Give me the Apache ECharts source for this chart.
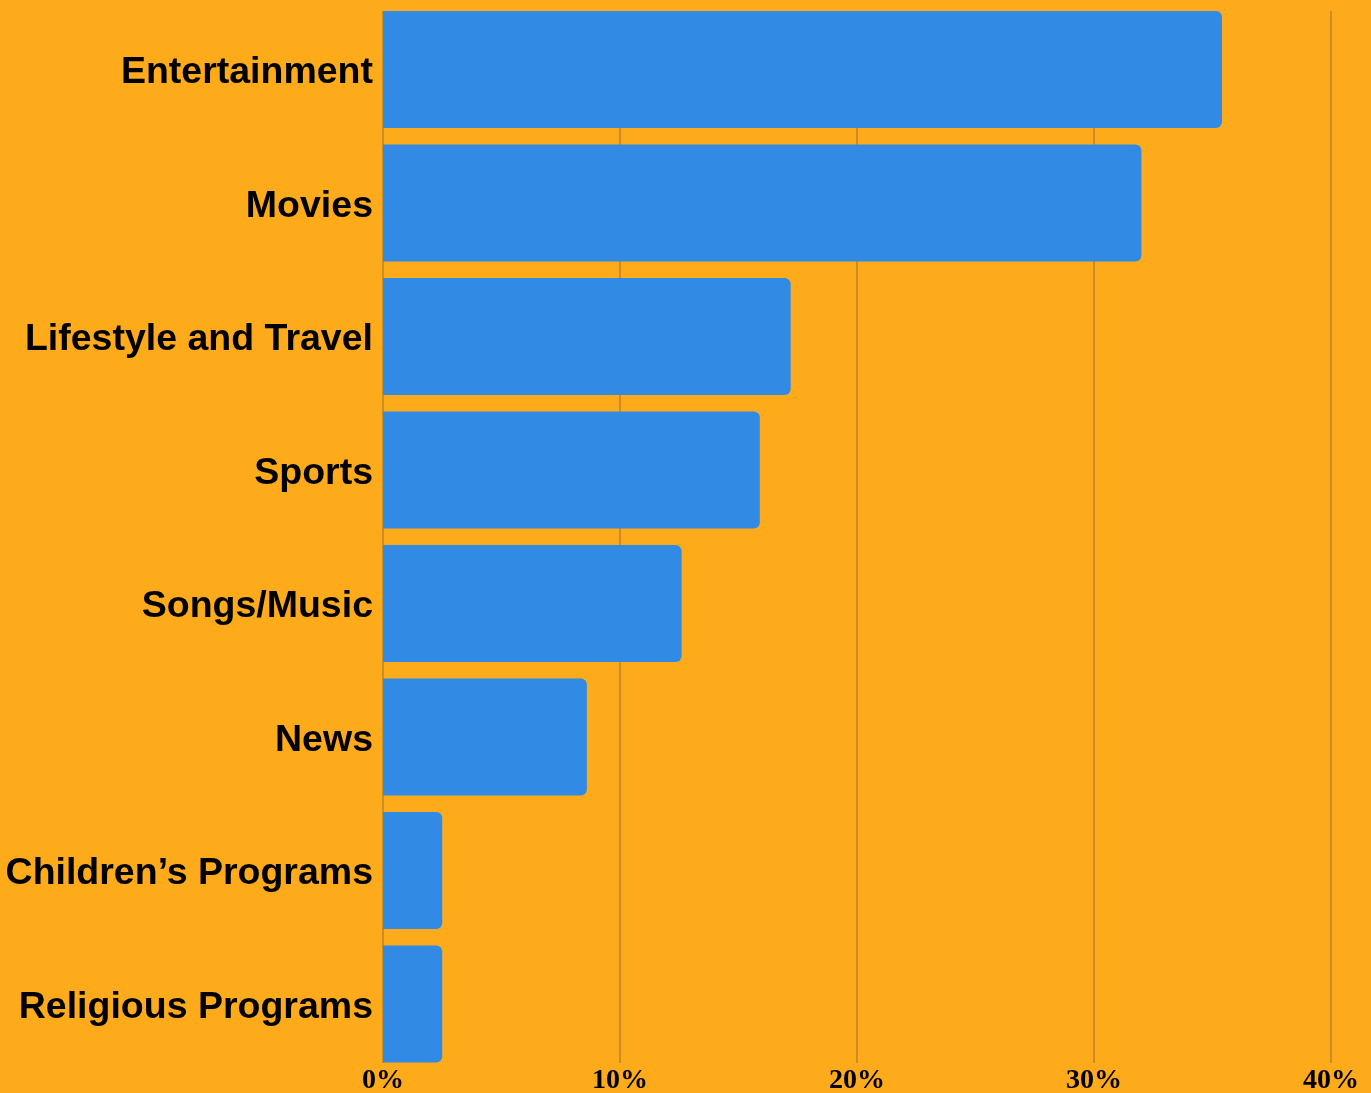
<!DOCTYPE html>
<html>
<head>
<meta charset="utf-8">
<script src="https://cdn.jsdelivr.net/npm/echarts@6/dist/echarts.min.js"></script>
<style>
html,body{margin:0;padding:0;background:#FEAB1B;}
#c{width:1371px;height:1093px;}
</style>
</head>
<body>
<div id="c"></div>
<script>
const categories = ["Entertainment","Movies","Lifestyle and Travel","Sports","Songs/Music","News","Children\u2019s Programs","Religious Programs"];
const values = [35.4, 32.0, 17.2, 15.9, 12.6, 8.6, 2.5, 2.5];
const tickMin = 0, tickMax = 40, tickStep = 10;

const chart = echarts.init(document.getElementById('c'), null, {renderer:'canvas'});
chart.setOption({
  backgroundColor: '#FEAB1B',
  animation: false,
  grid: [
    {left: 383, right: 40, top: 11, bottom: 30, outerBoundsMode: 'none', containLabel: false},
    {left: 383, right: 40, top: 2.8, bottom: 22.3, outerBoundsMode: 'none', containLabel: false}
  ],
  xAxis: [
    {gridIndex: 0, type: 'value', min: tickMin, max: tickMax, interval: tickStep,
     axisLine: {show: false}, axisTick: {show: false},
     splitLine: {show: true, lineStyle: {color: '#CC8E22', width: 2}},
     axisLabel: {formatter: '{value}%', color: '#000', fontFamily: 'Liberation Serif', fontWeight: 'bold', fontSize: 28, margin: 4}},
    {gridIndex: 1, type: 'value', min: tickMin, max: tickMax, show: false}
  ],
  yAxis: [
    {gridIndex: 0, type: 'category', data: categories, inverse: true, show: false},
    {gridIndex: 1, type: 'category', data: categories, inverse: true,
     axisLine: {show: false}, axisTick: {show: false},
     axisLabel: {margin: 10,
       formatter: function (v) { return '{a|' + v + '}'; },
       rich: {a: {color: '#000', fontFamily: 'Liberation Sans', fontWeight: 'bold', fontSize: 37.5, padding: [7, 0, 0, 0]}}}}
  ],
  series: [{
    type: 'bar', xAxisIndex: 1, yAxisIndex: 1, data: values,
    barCategoryGap: '12.3%',
    itemStyle: {color: '#318AE4', borderRadius: [0, 6, 6, 0]}
  }]
});
</script>
</body>
</html>
